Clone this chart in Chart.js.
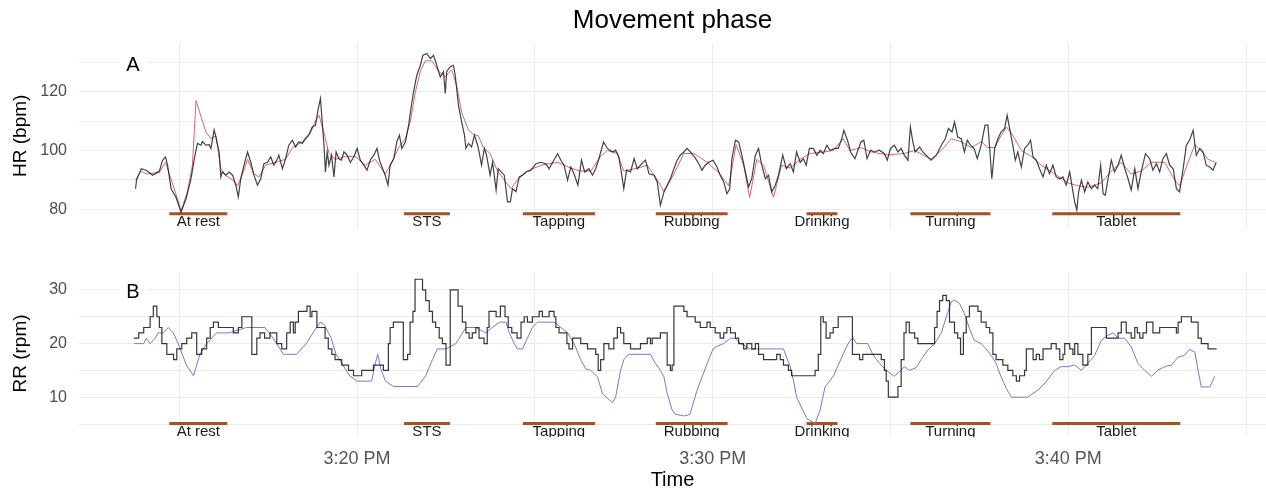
<!DOCTYPE html>
<html>
<head>
<meta charset="utf-8">
<script src="https://cdn.jsdelivr.net/npm/chart.js@4.4.1/dist/chart.umd.min.js"></script>
<style>
  html, body { margin: 0; padding: 0; background: #fff; overflow: hidden; }
  #painel-a { position: absolute; left: 0; top: 0; }
  #painel-b { position: absolute; left: 0; top: 240px; }
</style>
</head>
<body>
<canvas id="painel-a" width="1266" height="250"></canvas>
<canvas id="painel-b" width="1266" height="250"></canvas>
<script>
// tempos em minutos depois das 3:00 PM
const hrRaw = [[13.77,87],[13.80,90],[13.93,93.8],[14.07,93.3],[14.25,91.6],[14.44,93],[14.53,96.7],[14.61,97.8],[14.67,95],[14.77,87],[14.91,84],[15.05,79],[15.19,83.6],[15.33,90.4],[15.42,97],[15.51,102.4],[15.61,101.8],[15.65,103],[15.75,101.8],[15.84,102],[15.89,100.7],[15.98,107],[16.03,104.6],[16.12,99.5],[16.17,91],[16.21,92.7],[16.31,91.6],[16.40,92.7],[16.50,91.6],[16.59,88.2],[16.66,84.2],[16.73,90.4],[16.82,95],[16.92,99.5],[17.01,96],[17.10,91.6],[17.20,88.2],[17.29,90.4],[17.38,95.5],[17.48,96],[17.57,97.8],[17.66,95],[17.76,97.2],[17.80,98.4],[17.90,93.8],[17.99,97.2],[18.08,101.8],[18.18,103.5],[18.27,101.2],[18.36,103],[18.46,102.4],[18.55,104],[18.64,105.2],[18.74,108],[18.83,108.6],[18.91,114.3],[18.97,117.7],[19.02,109.7],[19.07,101.8],[19.11,92.7],[19.16,99.5],[19.21,95],[19.28,98.4],[19.35,91],[19.41,99.5],[19.49,97.2],[19.56,96.7],[19.63,99.5],[19.72,98.4],[19.81,96],[19.91,97.8],[20.00,100.7],[20.09,96.7],[20.19,95],[20.28,93.3],[20.37,96.7],[20.47,98.4],[20.56,100.7],[20.63,96.7],[20.70,94.4],[20.79,91.6],[20.87,88.2],[20.93,95],[21.03,97.2],[21.12,103],[21.19,105.2],[21.26,100.7],[21.36,103],[21.45,108.6],[21.52,114.8],[21.59,120],[21.68,125.6],[21.78,129],[21.85,132.4],[21.96,133],[22.06,131.3],[22.15,132.4],[22.24,129],[22.34,125],[22.43,126.8],[22.48,119.4],[22.52,126.8],[22.62,128.5],[22.71,129],[22.76,125.6],[22.85,115.4],[22.94,109.7],[23.02,105.2],[23.06,100.7],[23.13,102.4],[23.22,101.2],[23.30,105.2],[23.39,101.8],[23.43,99.5],[23.50,95],[23.58,100.7],[23.64,98.4],[23.74,91.6],[23.81,96],[23.91,86.5],[23.97,93.8],[24.05,92.7],[24.14,91.6],[24.23,82.5],[24.31,82.5],[24.37,87],[24.47,86],[24.56,91],[24.65,91.6],[24.75,92.7],[24.89,93.3],[25.03,95.5],[25.17,96],[25.31,95.5],[25.40,93.8],[25.50,96],[25.64,98.9],[25.73,96.7],[25.82,95],[25.92,89.9],[26.01,94.4],[26.10,92.1],[26.21,88.2],[26.31,96.7],[26.40,92.7],[26.52,93.8],[26.62,91.6],[26.71,93.8],[26.80,97.2],[26.93,102.9],[27.04,100.7],[27.18,99.5],[27.27,100.1],[27.36,97.8],[27.43,92.7],[27.50,87],[27.58,93.3],[27.69,92.7],[27.79,97.2],[27.88,93.8],[27.97,95],[28.11,96.7],[28.21,92.1],[28.35,91.6],[28.44,89.3],[28.53,81.4],[28.63,85.9],[28.72,88.2],[28.81,90.4],[28.91,93.8],[29.00,96.7],[29.09,98.4],[29.19,99.5],[29.28,100.7],[29.37,99.5],[29.49,97.8],[29.61,95.5],[29.70,93.3],[29.79,95],[29.89,96],[30.01,96.7],[30.12,94.4],[30.21,91.6],[30.31,89.3],[30.40,85.3],[30.48,87],[30.54,97.2],[30.64,103.5],[30.73,102.9],[30.82,98.4],[30.92,92.7],[31.01,87.6],[31.10,90.4],[31.20,98.4],[31.29,100.7],[31.38,95],[31.48,90.4],[31.57,91.6],[31.66,85.9],[31.76,88.2],[31.85,91.6],[31.97,98.4],[32.07,93.8],[32.18,95.5],[32.27,92.7],[32.36,99.5],[32.46,96],[32.55,97.2],[32.63,95],[32.72,100.7],[32.83,100.7],[32.93,98.4],[33.02,100.1],[33.11,98.9],[33.21,101.8],[33.30,100.1],[33.44,100.7],[33.53,100.7],[33.63,104],[33.69,106.9],[33.79,103.5],[33.88,99.5],[34.00,97.2],[34.17,102.9],[34.25,103.5],[34.34,97.2],[34.44,100.1],[34.55,99.5],[34.69,100.1],[34.83,98.9],[34.91,96.7],[35.00,100.7],[35.11,101.8],[35.21,99.5],[35.30,100.7],[35.39,98.4],[35.49,96.7],[35.56,108],[35.63,102.9],[35.69,99.5],[35.82,101.2],[35.91,99.5],[36.00,98.4],[36.14,96.7],[36.29,98.4],[36.43,101.8],[36.54,104],[36.63,107.5],[36.73,106.3],[36.80,109.7],[36.89,104.6],[36.99,104],[37.08,99.5],[37.16,103.5],[37.25,101.8],[37.35,100.7],[37.44,97.2],[37.55,101.8],[37.66,108.6],[37.74,108.6],[37.79,100.7],[37.85,90.4],[37.93,100.7],[38.02,104],[38.11,106.3],[38.21,107.5],[38.28,112],[38.35,107.5],[38.44,101.8],[38.51,96.7],[38.58,99.5],[38.68,94.4],[38.77,100.7],[38.86,101.8],[38.94,103.5],[39.01,97.8],[39.10,96.7],[39.19,93.8],[39.29,91],[39.38,95],[39.47,92.1],[39.57,95],[39.66,91],[39.76,90.4],[39.85,91],[39.94,88.2],[40.04,92.7],[40.10,88.2],[40.18,82.5],[40.24,79.7],[40.29,85.9],[40.37,89.9],[40.46,85.9],[40.55,89.3],[40.65,87],[40.74,88.2],[40.83,87],[40.91,95],[40.98,85.3],[41.04,84.8],[41.12,90.4],[41.21,96.7],[41.30,92.7],[41.40,95],[41.49,98.4],[41.59,93.8],[41.68,90.4],[41.77,86.5],[41.87,93.8],[41.96,87],[42.05,92.7],[42.17,98.9],[42.29,97.2],[42.38,93.3],[42.48,95.5],[42.57,92.7],[42.66,97.2],[42.76,98.9],[42.85,95],[42.95,93.8],[43.04,87],[43.13,85.9],[43.23,93.8],[43.32,101.8],[43.41,103.5],[43.51,106.9],[43.60,98.4],[43.70,100.7],[43.79,99.5],[43.88,95],[43.98,94.4],[44.07,93.3],[44.16,96]];

const hrSmooth = [[13.77,90],[13.93,93],[14.07,92],[14.44,92.5],[14.61,96],[14.72,92],[14.91,85],[15.05,79.5],[15.23,86],[15.37,95],[15.47,117],[15.61,111.5],[15.75,106.3],[15.89,104],[16.03,105],[16.17,93.8],[16.31,91.5],[16.50,90],[16.64,88],[16.78,92],[16.92,97],[17.10,92],[17.24,91],[17.43,95],[17.71,96],[17.99,97],[18.18,101],[18.46,103],[18.69,106],[18.83,110],[18.93,112],[19.07,106],[19.21,99],[19.39,97],[19.67,98],[19.95,98],[20.23,95],[20.51,97],[20.79,92],[20.98,96],[21.17,101],[21.36,104],[21.50,110],[21.64,120],[21.78,127],[21.92,130.5],[22.10,130.5],[22.29,127],[22.48,125],[22.66,127.5],[22.80,122],[22.94,113],[23.13,107],[23.27,105.5],[23.41,105],[23.55,101],[23.74,99],[23.95,93],[24.14,90],[24.33,87],[24.51,90],[24.79,93],[25.17,95],[25.64,96],[26.01,94],[26.29,93],[26.57,93],[26.85,98],[27.04,100],[27.32,99],[27.50,93],[27.88,94],[28.16,95],[28.44,90],[28.63,86],[28.91,92],[29.19,99],[29.47,99],[29.84,96],[30.21,92],[30.45,88],[30.66,102],[30.87,95],[31.04,84],[31.24,97],[31.43,95],[31.71,84],[31.94,95],[32.18,94],[32.46,97],[32.74,99],[33.11,99.5],[33.39,100],[33.67,104],[33.86,100],[34.17,101],[34.46,99.5],[34.92,98.5],[35.39,99],[35.68,100],[36.14,97],[36.43,100],[36.71,104],[36.99,103],[37.27,101],[37.55,103],[37.74,101],[37.93,101],[38.11,105],[38.26,108],[38.40,106],[38.68,100],[38.96,98],[39.24,95],[39.62,92],[39.99,89],[40.27,88],[40.55,87.5],[40.93,89],[41.21,93],[41.49,96],[41.77,92],[42.05,93],[42.34,96],[42.71,96],[42.99,90],[43.13,88],[43.37,96],[43.56,102],[43.74,100],[43.93,97],[44.12,96]];

const rrRaw = [[13.72,21],[13.86,22],[14.00,23],[14.18,25],[14.27,27],[14.37,25],[14.44,23],[14.51,20],[14.65,18],[14.84,17],[14.93,19],[15.07,20],[15.21,21],[15.35,22],[15.49,18],[15.63,19],[15.77,21],[15.87,23],[15.96,24],[16.10,23],[16.52,22],[16.66,23],[16.76,25],[17.04,18],[17.18,21],[17.27,22],[17.40,21],[17.55,22],[17.74,20],[17.88,19],[18.02,22],[18.12,24],[18.21,22],[18.26,24],[18.35,26],[18.59,27],[18.68,25],[18.73,26],[18.87,23],[19.10,21],[19.19,19],[19.29,18],[19.38,17],[19.57,16],[19.76,15],[19.90,14],[20.13,15],[20.46,16],[20.74,15],[20.88,20],[20.93,23],[21.02,24],[21.30,17],[21.42,18],[21.49,24],[21.57,26],[21.63,32],[21.84,30],[21.93,28],[22.03,26],[22.12,24],[22.21,23],[22.31,21],[22.40,20],[22.50,16],[22.62,30],[22.84,27],[22.96,24],[23.06,22],[23.15,21],[23.24,22],[23.34,23],[23.43,21],[23.57,20],[23.66,23],[23.71,26],[23.91,25],[24.03,27],[24.16,25],[24.25,23],[24.35,22],[24.50,21],[24.61,24],[24.70,25],[24.79,24],[24.93,25],[25.12,26],[25.21,25],[25.40,26],[25.54,25],[25.59,23],[25.68,22],[25.90,20],[25.96,19],[26.06,21],[26.29,20],[26.48,19],[26.71,18],[26.78,15],[26.85,17],[26.94,20],[27.08,19],[27.22,21],[27.32,23],[27.41,22],[27.50,20],[27.69,19],[27.97,20],[28.16,21],[28.25,20],[28.30,21],[28.53,22],[28.72,16],[28.81,15],[28.86,16],[28.91,27],[29.19,26],[29.28,25],[29.51,24],[29.65,23],[29.84,24],[29.93,23],[30.07,22],[30.21,21],[30.31,22],[30.40,23],[30.50,22],[30.64,21],[30.73,20],[30.87,19],[30.96,20],[31.10,19],[31.20,20],[31.29,18],[31.43,17],[31.80,18],[31.90,17],[31.99,16],[32.13,15],[32.22,14],[32.88,15],[32.97,18],[33.04,25],[33.11,24],[33.19,21],[33.30,22],[33.39,23],[33.53,25],[33.93,18],[34.13,17],[34.22,18],[34.74,17],[34.83,15],[34.88,13],[34.94,10],[35.21,12],[35.30,17],[35.38,22],[35.44,24],[35.53,22],[35.68,21],[35.77,20],[36.24,23],[36.31,26],[36.38,28],[36.47,29],[36.57,28],[36.66,24],[36.80,22],[36.89,21],[36.97,18],[37.05,22],[37.13,25],[37.22,27],[37.46,26],[37.55,24],[37.69,23],[37.79,22],[37.88,18],[37.97,17],[38.16,16],[38.30,15],[38.44,14],[38.54,13],[38.63,14],[38.77,15],[38.82,19],[39.01,17],[39.10,18],[39.19,17],[39.29,19],[39.52,20],[39.66,19],[39.76,17],[39.85,18],[39.90,20],[40.04,19],[40.13,18],[40.18,20],[40.27,18],[40.41,16],[40.55,18],[40.65,23],[41.07,21],[41.40,22],[41.49,24],[41.63,22],[41.77,21],[41.87,23],[41.94,22],[42.01,21],[42.10,22],[42.20,24],[42.38,22],[42.57,23],[43.04,22],[43.09,24],[43.18,25],[43.46,24],[43.65,21],[43.74,20],[43.93,19],[44.17,19]];

const rrSmooth = [[13.73,20],[14.00,20],[14.07,21],[14.18,20],[14.32,21],[14.41,22],[14.55,22],[14.69,23],[14.83,22],[14.97,20],[15.20,16],[15.40,14],[15.58,18],[15.77,20],[16.05,22],[16.40,22],[16.89,23],[17.41,23],[17.64,21],[17.93,18],[18.30,18],[18.57,20],[18.76,22],[18.96,24],[19.08,23.5],[19.27,21],[19.41,18],[19.60,16],[19.79,14],[19.99,13],[20.41,13],[20.50,16],[20.58,18],[20.68,15],[20.80,13],[21.02,12],[21.70,12],[21.93,14],[22.12,17],[22.26,19],[22.50,19],[22.78,20],[23.06,23],[23.34,23],[23.62,22],[23.80,23],[24.00,24],[24.19,24],[24.28,22],[24.42,20],[24.51,19],[24.65,19],[24.79,21],[24.93,23],[25.07,24],[25.54,24],[25.73,23],[25.92,22],[26.10,20],[26.29,17],[26.43,15.3],[26.57,15],[26.76,13.8],[26.90,10.7],[27.04,9.8],[27.18,9],[27.27,10],[27.41,15],[27.50,17],[27.64,18],[28.25,18],[28.39,16.3],[28.53,15],[28.63,13.8],[28.72,10.7],[28.86,7.6],[28.95,6.8],[29.20,6.5],[29.36,6.8],[29.56,11.3],[29.84,16.2],[30.01,19],[30.12,19.5],[30.31,20],[30.50,21],[30.64,21],[30.78,20],[31.06,19],[31.99,19],[32.18,15.7],[32.27,13.2],[32.36,10],[32.65,6],[32.88,5.1],[33.02,7.6],[33.16,11.9],[33.40,14],[33.72,18.8],[33.86,20.6],[33.95,21],[34.05,20],[34.36,20],[34.50,18],[34.69,16.3],[34.88,15],[35.11,13.9],[35.25,14.7],[35.39,15.7],[35.53,15],[35.72,15.5],[35.86,17],[36.05,18.8],[36.24,20],[36.43,22],[36.57,25],[36.71,27.8],[36.80,28.1],[36.94,27.5],[37.08,25.6],[37.22,22.8],[37.36,20.6],[37.55,20],[37.69,19],[37.83,17.8],[37.97,16.3],[38.11,13.8],[38.26,11.6],[38.40,10],[38.86,10],[39.01,10.7],[39.15,11.3],[39.38,12.9],[39.62,15],[39.80,15.7],[39.99,15.7],[40.18,16],[40.37,15],[40.55,16.3],[40.74,17.8],[40.93,20.6],[41.12,21.6],[41.26,22],[41.40,21],[41.59,21],[41.77,19.4],[41.96,16.3],[42.15,15],[42.34,13.9],[42.52,15],[42.71,15.7],[42.90,16],[43.09,17.5],[43.27,17.8],[43.41,18.9],[43.56,18.4],[43.65,15],[43.74,11.9],[43.98,11.9],[44.12,13.9]];

const faseNomes = ['At rest', 'STS', 'Tapping', 'Rubbing', 'Drinking', 'Turning', 'Tablet'];
const faseInicio = [14.72, 21.32, 24.66, 28.40, 32.64, 35.56, 39.55];
const faseFim = [16.35, 22.61, 26.69, 30.42, 33.51, 37.81, 43.15];
const horasMarcadas = [20, 30, 40];

const FONTE = '"Liberation Sans", Arial, sans-serif';
const GRADE = '#ebebeb';
const X_MIN = 12.18;
const X_MAX = 45.56;

const pontos = (lista) => lista.map(p => ({x: p[0], y: p[1]}));

// segmentos das fases, separados por null
const barras = (y) => {
    let data = [];
    faseNomes.forEach((nome, i) => {
        data.push({x: faseInicio[i], y: y});
        data.push({x: faseFim[i], y: y});
        data.push({x: faseFim[i], y: null});
    });
    return data;
}

// etiquetas das fases + letra do painel
const fases = {
    id: 'fases',
    afterDatasetsDraw(chart, args, opts) {
        const {ctx, chartArea, scales} = chart;
        ctx.save();
        ctx.beginPath();
        ctx.rect(chartArea.left, chartArea.top, chartArea.right - chartArea.left, chartArea.bottom - chartArea.top + 2);
        ctx.clip();
        ctx.font = '15px ' + FONTE;
        ctx.fillStyle = '#1a1a1a';
        ctx.textAlign = 'center';
        ctx.textBaseline = 'top';
        const yb = scales.y.getPixelForValue(opts.y) + 1;
        faseNomes.forEach((nome, i) => {
            const xc = (scales.x.getPixelForValue(faseInicio[i]) + scales.x.getPixelForValue(faseFim[i])) / 2;
            ctx.fillText(nome, xc, yb);
        });
        ctx.restore();

        ctx.save();
        const tx = chartArea.left + 54;
        const ty = chartArea.top + opts.tagDy;
        ctx.fillStyle = '#fff';
        ctx.fillRect(tx - 15, ty - 12, 30, 24);
        ctx.font = '20px ' + FONTE;
        ctx.fillStyle = '#000';
        ctx.textAlign = 'center';
        ctx.textBaseline = 'middle';
        ctx.fillText(opts.tag, tx, ty);
        ctx.restore();
    }
}

const eixoX = (mostrar, altura) => ({
    type: 'linear',
    min: X_MIN,
    max: X_MAX,
    grid: { color: GRADE, lineWidth: 1, drawTicks: false },
    border: { display: false },
    ticks: {
        display: mostrar,
        stepSize: 5,
        includeBounds: false,
        autoSkip: false,
        maxRotation: 0,
        padding: 13,
        color: '#555',
        font: { family: FONTE, size: 18 },
        callback: (v) => horasMarcadas.includes(v) ? `3:${v} PM` : ''
    },
    title: {
        display: mostrar,
        text: 'Time',
        color: '#000',
        padding: 0,
        font: { family: FONTE, size: 20, lineHeight: 1 }
    },
    afterFit: (s) => { s.height = altura }
});

const eixoY = (min, max, passo, marcar, titulo) => ({
    min: min,
    max: max,
    grid: { color: GRADE, lineWidth: 1, drawTicks: false },
    border: { display: false },
    ticks: {
        stepSize: passo,
        includeBounds: false,
        padding: 12,
        color: '#4d4d4d',
        font: { family: FONTE, size: 16 },
        callback: (v) => v % marcar === 0 ? v : ''
    },
    title: {
        display: true,
        text: titulo,
        color: '#000',
        padding: { top: 9, bottom: 0 },
        font: { family: FONTE, size: 19 }
    },
    afterFit: (s) => { s.width = 79 }
});

// painel A: o canvas tem 250 de altura, a área do gráfico acaba em ~228
const configA = {
    type: 'line',
    data: {
        datasets: [{
            data: pontos(hrRaw),
            borderColor: 'rgba(20,20,20,0.8)',
            borderWidth: 1.2,
            pointRadius: 0,
        }, {
            data: pontos(hrSmooth),
            borderColor: 'rgb(214,104,104)',
            borderWidth: 1,
            pointRadius: 0,
        }, {
            data: barras(78.5),
            borderColor: '#a0522d',
            borderWidth: 3,
            borderCapStyle: 'butt',
            pointRadius: 0,
            spanGaps: false,
        }]
    },
    options: {
        responsive: false,
        animation: false,
        layout: { padding: 0 },
        scales: {
            x: eixoX(false, 3),
            y: eixoY(73.5, 136.5, 10, 20, 'HR (bpm)')
        },
        plugins: {
            legend: { display: false },
            tooltip: { enabled: false },
            title: {
                display: true,
                text: 'Movement phase',
                fullSize: false,
                color: '#000',
                padding: { top: 5, bottom: 7 },
                font: { family: FONTE, size: 26, weight: 'normal', lineHeight: 1.2 }
            },
            fases: { y: 78.5, tag: 'A', tagDy: 22 }
        }
    },
    plugins: [fases]
};

const configB = {
    type: 'line',
    data: {
        datasets: [{
            data: pontos(rrRaw),
            stepped: true,
            borderColor: 'rgba(20,20,20,0.85)',
            borderWidth: 1.2,
            pointRadius: 0,
        }, {
            data: pontos(rrSmooth),
            borderColor: 'rgb(120,120,210)',
            borderWidth: 1,
            pointRadius: 0,
        }, {
            data: barras(5.1),
            borderColor: '#a0522d',
            borderWidth: 3,
            borderCapStyle: 'butt',
            pointRadius: 0,
            spanGaps: false,
        }]
    },
    options: {
        responsive: false,
        animation: false,
        layout: { padding: { top: 32 } },
        scales: {
            x: eixoX(true, 55),
            y: eixoY(2.95, 33.35, 5, 10, 'RR (rpm)')
        },
        plugins: {
            legend: { display: false },
            tooltip: { enabled: false },
            fases: { y: 5.1, tag: 'B', tagDy: 20 }
        }
    },
    plugins: [fases]
};

const graficoA = new Chart(document.getElementById('painel-a'), configA);
const graficoB = new Chart(document.getElementById('painel-b'), configB);
</script>
</body>
</html>
